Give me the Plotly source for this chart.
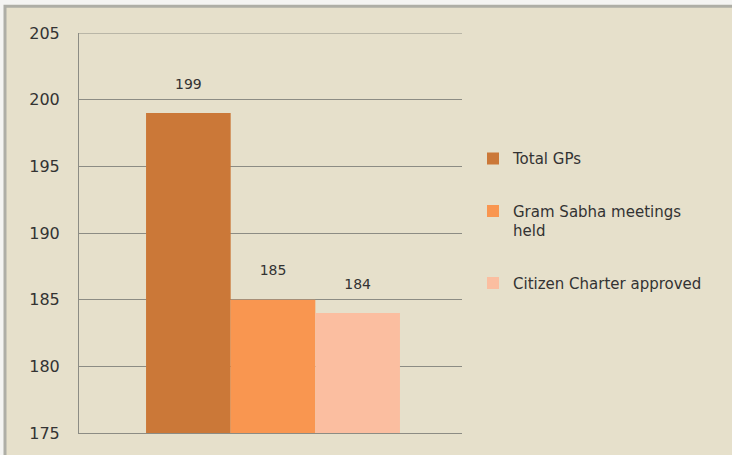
import plotly.graph_objects as go

categories = [""]
series_names = ["Total GPs", "Gram Sabha meetings<br>held", "Citizen Charter approved"]
series_values = [[199], [185], [184]]
series_colors = ["#CB7838", "#F99650", "#FBBEA0"]
y_ticks = [175, 180, 185, 190, 195, 200, 205]

W, H = 732, 455
L, R, T, B = 79, 270, 33, 19
pw = W - L - R
ph = H - T - B

def px_x(p):
    return (p - L) / pw

def px_y(p):
    return (H - B - p) / ph

fig = go.Figure()
for i, (name, vals, col) in enumerate(zip(series_names, series_values, series_colors)):
    fig.add_trace(go.Bar(
        x=categories, y=vals, name=name, marker_color=col, marker_line_width=0,
        text=[str(v) for v in vals], texttemplate="%{text}<br> ",
        textposition="outside",
        textfont=dict(size=14, color="#333333"), cliponaxis=False,
        legendgroup=f"g{i}",
    ))

font_family = "DejaVu Sans"
fig.update_layout(
    width=W, height=H,
    margin=dict(l=L, r=R, t=T, b=B, pad=0),
    barmode="group", bargap=0.337, bargroupgap=0,
    paper_bgcolor="#F4F4F2", plot_bgcolor="rgba(0,0,0,0)",
    font=dict(family=font_family, size=14, color="#333333"),
    showlegend=True,
    legend=dict(x=px_x(473), y=px_y(143), xanchor="left", yanchor="top",
                bgcolor="rgba(0,0,0,0)", font=dict(size=15, color="#333333"),
                tracegroupgap=30, itemwidth=30, traceorder="grouped", valign="top"),
    shapes=[
        dict(type="rect", xref="paper", yref="paper", layer="below",
             x0=px_x(5), x1=px_x(745), y0=px_y(470), y1=px_y(6),
             fillcolor="#E6E0CB", line=dict(color="#AEAEA6", width=3)),
        dict(type="line", xref="paper", yref="y", layer="below",
             x0=0, x1=1, y0=y_ticks[-1], y1=y_ticks[-1],
             line=dict(color="#8C8C84", width=1)),
    ],
)
d = 2.5 / pw
fig.update_xaxes(showgrid=False, showticklabels=False, showline=True,
                 linecolor="#8C8C84", linewidth=1, range=[-0.5 - d, 0.5 - d],
                 fixedrange=True)
fig.update_yaxes(range=[175, 205], tickvals=y_ticks, ticktext=[str(v) for v in y_ticks],
                 showgrid=True, gridcolor="#8C8C84", gridwidth=1,
                 showline=True, linecolor="#8C8C84", linewidth=1,
                 ticks="outside", ticklen=15, tickcolor="rgba(0,0,0,0)",
                 tickfont=dict(size=16, color="#333333"), zeroline=False)
fig.write_html("out.html", config={"displayModeBar": False},
               post_script="document.body.style.margin='0';document.body.style.overflow='hidden';")
